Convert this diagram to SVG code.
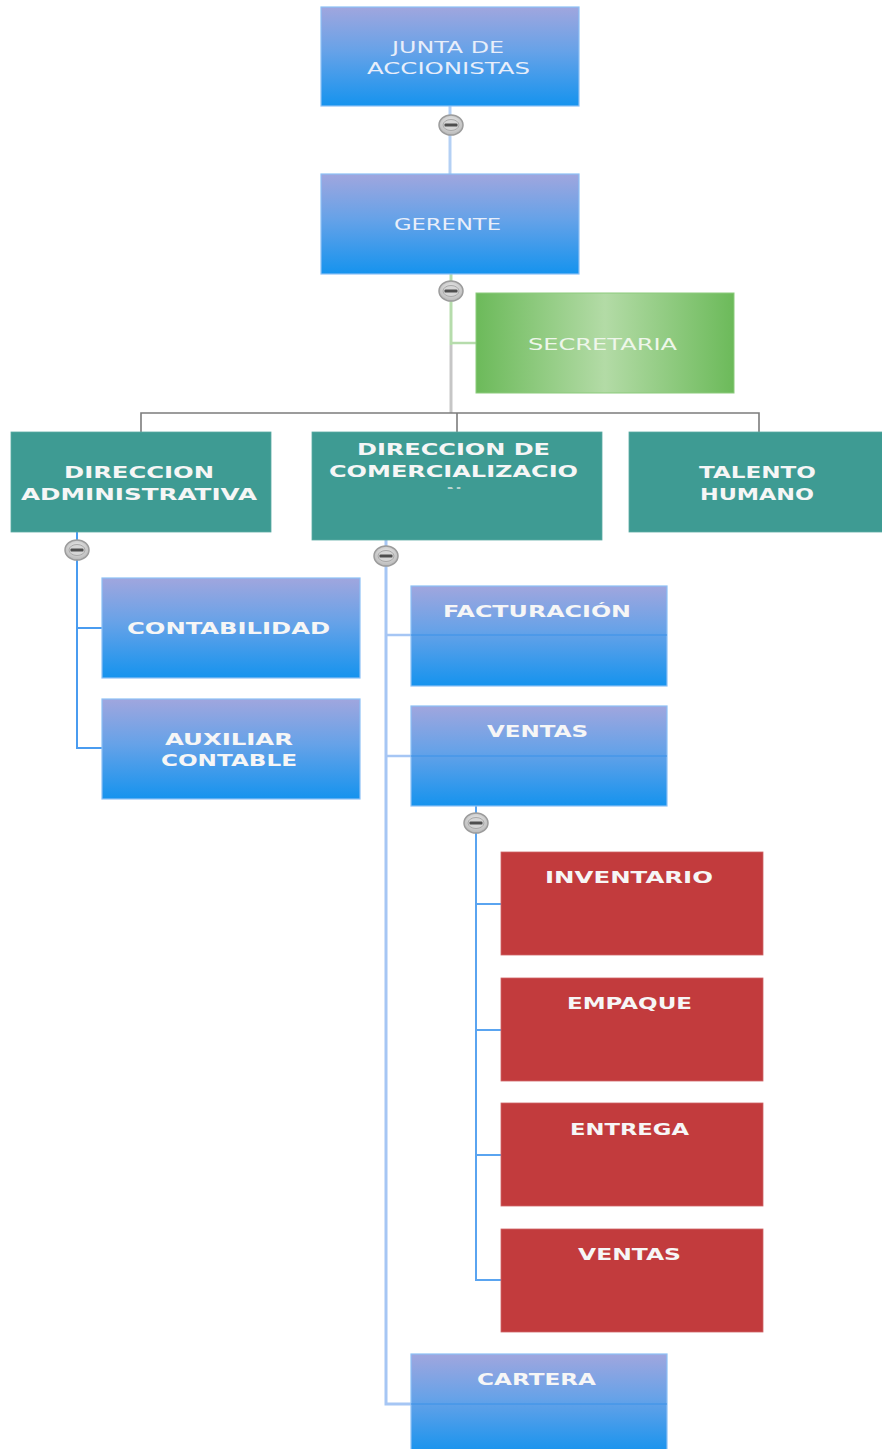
<svg xmlns="http://www.w3.org/2000/svg" width="882" height="1449" viewBox="0 0 882 1449">
<defs>
<linearGradient id="gBlue" x1="0" y1="0" x2="0" y2="1">
<stop offset="0" stop-color="#a0a6de"/>
<stop offset="0.45" stop-color="#66a2e8"/>
<stop offset="1" stop-color="#1593ee"/>
</linearGradient>
<linearGradient id="gGreen" x1="0" y1="0" x2="1" y2="0">
<stop offset="0" stop-color="#6cba5a"/>
<stop offset="0.5" stop-color="#b3dba6"/>
<stop offset="1" stop-color="#6cba5a"/>
</linearGradient>
<radialGradient id="gKnob" cx="0.5" cy="0.4" r="0.6">
<stop offset="0" stop-color="#f0f0f0"/>
<stop offset="1" stop-color="#b8b8b8"/>
</radialGradient>
<clipPath id="clipN"><rect x="440" y="485" width="30" height="4"/></clipPath>
<g id="knob">
<ellipse cx="0" cy="0" rx="12" ry="10" fill="url(#gKnob)" stroke="#9c9c9c" stroke-width="1.5"/>
<ellipse cx="0" cy="0" rx="8" ry="5.5" fill="#d6d6d6" stroke="#a8a8a8" stroke-width="1"/>
<rect x="-6.5" y="-1.6" width="13" height="3.2" rx="1.2" fill="#4e4e4e"/>
</g>
</defs>
<style>
.blue{fill:url(#gBlue);stroke:#8cc0f6;stroke-width:1.2}
.teal{fill:#3e9b93;stroke:#5aaaa3;stroke-width:0.8}
.red{fill:#c23b3d;stroke:#d06466;stroke-width:0.8}
.green{fill:url(#gGreen);stroke:#8ccb7c;stroke-width:1}
.thin{font-family:"DejaVu Sans","Liberation Sans",sans-serif;font-size:16px;fill:#e8eefa;lengthAdjust:spacingAndGlyphs}
.bold{font-family:"DejaVu Sans","Liberation Sans",sans-serif;font-size:16px;font-weight:bold;fill:#f6f6f6}
.c{fill:none;stroke-linecap:butt}
</style>
<rect width="882" height="1449" fill="#ffffff"/>

<g id="connectors">
<line class="c" x1="450" y1="106" x2="450" y2="174" stroke="#b4d0f4" stroke-width="3"/>
<line class="c" x1="451" y1="274" x2="451" y2="345" stroke="#b6dcac" stroke-width="3"/>
<line class="c" x1="451" y1="343" x2="476" y2="343" stroke="#b6dcac" stroke-width="2.5"/>
<line class="c" x1="451" y1="345" x2="451" y2="413" stroke="#c6c6c6" stroke-width="3"/>
<polyline class="c" points="141,432 141,413 759,413 759,432" stroke="#7c7c7c" stroke-width="1.6"/>
<line class="c" x1="457" y1="413" x2="457" y2="432" stroke="#7c7c7c" stroke-width="1.6"/>
<polyline class="c" points="77,532 77,748 102,748" stroke="#4a9cf0" stroke-width="2"/>
<line class="c" x1="77" y1="628" x2="102" y2="628" stroke="#4a9cf0" stroke-width="2"/>
<polyline class="c" points="386,540 386,1404 411,1404" stroke="#a6c6f4" stroke-width="3"/>
<line class="c" x1="386" y1="635" x2="411" y2="635" stroke="#a6c6f4" stroke-width="2.5"/>
<line class="c" x1="386" y1="756" x2="411" y2="756" stroke="#a6c6f4" stroke-width="2.5"/>
<polyline class="c" points="476,806 476,1280 501,1280" stroke="#5aa4f0" stroke-width="2"/>
<line class="c" x1="476" y1="904" x2="501" y2="904" stroke="#5aa4f0" stroke-width="2"/>
<line class="c" x1="476" y1="1030" x2="501" y2="1030" stroke="#5aa4f0" stroke-width="2"/>
<line class="c" x1="476" y1="1155" x2="501" y2="1155" stroke="#5aa4f0" stroke-width="2"/>
</g>

<g id="junta">
<rect class="blue" x="321" y="7" width="258" height="99"/>
<text class="thin" x="392" y="53" textLength="112" lengthAdjust="spacingAndGlyphs">JUNTA DE</text>
<text class="thin" x="367" y="74" textLength="163" lengthAdjust="spacingAndGlyphs">ACCIONISTAS</text>
</g>
<g id="gerente">
<rect class="blue" x="321" y="174" width="258" height="100"/>
<text class="thin" x="394" y="230" textLength="107" lengthAdjust="spacingAndGlyphs">GERENTE</text>
</g>
<g id="secretaria">
<rect class="green" x="476" y="293" width="258" height="100"/>
<text class="thin" x="528" y="350" textLength="149" lengthAdjust="spacingAndGlyphs" style="fill:#eef6ea">SECRETARIA</text>
</g>
<g id="dir-admin">
<rect class="teal" x="11" y="432" width="260" height="100"/>
<text class="bold" x="64" y="478" textLength="150" lengthAdjust="spacingAndGlyphs">DIRECCION</text>
<text class="bold" x="21" y="500" textLength="236" lengthAdjust="spacingAndGlyphs">ADMINISTRATIVA</text>
</g>
<g id="dir-comerc">
<rect class="teal" x="312" y="432" width="290" height="108"/>
<text class="bold" x="357" y="455" textLength="193" lengthAdjust="spacingAndGlyphs">DIRECCION DE</text>
<text class="bold" x="329" y="477" textLength="249" lengthAdjust="spacingAndGlyphs">COMERCIALIZACIO</text>
<text class="bold" x="446" y="499" textLength="16" lengthAdjust="spacingAndGlyphs" clip-path="url(#clipN)" style="fill:#b8d4d0">N</text>
</g>
<g id="talento">
<rect class="teal" x="629" y="432" width="260" height="100"/>
<text class="bold" x="699" y="478" textLength="117" lengthAdjust="spacingAndGlyphs">TALENTO</text>
<text class="bold" x="700" y="500" textLength="114" lengthAdjust="spacingAndGlyphs">HUMANO</text>
</g>
<g id="contabilidad">
<rect class="blue" x="102" y="578" width="258" height="100"/>
<text class="bold" x="127" y="634" textLength="203" lengthAdjust="spacingAndGlyphs">CONTABILIDAD</text>
</g>
<g id="auxiliar">
<rect class="blue" x="102" y="699" width="258" height="100"/>
<text class="bold" x="165" y="745" textLength="128" lengthAdjust="spacingAndGlyphs">AUXILIAR</text>
<text class="bold" x="161" y="766" textLength="136" lengthAdjust="spacingAndGlyphs">CONTABLE</text>
</g>
<g id="facturacion">
<rect class="blue" x="411" y="586" width="256" height="100"/>
<line x1="411" y1="635" x2="667" y2="635" stroke="#3d95ea" stroke-width="1.5" opacity="0.7"/>
<text class="bold" x="443" y="617" textLength="188" lengthAdjust="spacingAndGlyphs">FACTURACIÓN</text>
</g>
<g id="ventas">
<rect class="blue" x="411" y="706" width="256" height="100"/>
<line x1="411" y1="756" x2="667" y2="756" stroke="#3d95ea" stroke-width="1.5" opacity="0.7"/>
<text class="bold" x="487" y="737" textLength="101" lengthAdjust="spacingAndGlyphs">VENTAS</text>
</g>
<g id="inventario">
<rect class="red" x="501" y="852" width="262" height="103"/>
<text class="bold" x="545" y="883" textLength="168" lengthAdjust="spacingAndGlyphs">INVENTARIO</text>
</g>
<g id="empaque">
<rect class="red" x="501" y="978" width="262" height="103"/>
<text class="bold" x="567" y="1009" textLength="125" lengthAdjust="spacingAndGlyphs">EMPAQUE</text>
</g>
<g id="entrega">
<rect class="red" x="501" y="1103" width="262" height="103"/>
<text class="bold" x="570" y="1135" textLength="119" lengthAdjust="spacingAndGlyphs">ENTREGA</text>
</g>
<g id="ventas-2">
<rect class="red" x="501" y="1229" width="262" height="103"/>
<text class="bold" x="578" y="1260" textLength="103" lengthAdjust="spacingAndGlyphs">VENTAS</text>
</g>
<g id="cartera">
<rect class="blue" x="411" y="1354" width="256" height="100"/>
<line x1="411" y1="1404" x2="667" y2="1404" stroke="#3d95ea" stroke-width="1.5" opacity="0.7"/>
<text class="bold" x="477" y="1385" textLength="119" lengthAdjust="spacingAndGlyphs">CARTERA</text>
</g>

<g id="knobs">
<use href="#knob" x="451" y="125"/>
<use href="#knob" x="451" y="291"/>
<use href="#knob" x="77" y="550"/>
<use href="#knob" x="386" y="556"/>
<use href="#knob" x="476" y="823"/>
</g>
</svg>
